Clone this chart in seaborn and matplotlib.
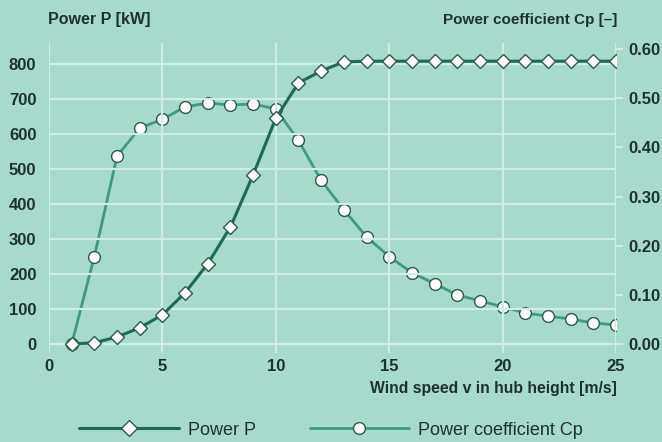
import matplotlib
matplotlib.use("Agg")
import matplotlib.pyplot as plt
from matplotlib.lines import Line2D
import seaborn as sns
import pandas as pd

# values
wind = list(range(1, 26))
power = [0, 3, 20, 46, 83, 146, 229, 334, 483, 645, 746, 780, 806,
         808, 808, 808, 808, 808, 808, 808, 808, 808, 808, 808, 808]
cp = [0.0, 0.178, 0.382, 0.439, 0.457, 0.482, 0.490, 0.486, 0.488, 0.478,
      0.414, 0.333, 0.273, 0.218, 0.178, 0.145, 0.123, 0.100, 0.088, 0.076,
      0.063, 0.057, 0.051, 0.043, 0.039]
p_ticks = [0, 100, 200, 300, 400, 500, 600, 700, 800]
cp_ticks = [0.0, 0.1, 0.2, 0.3, 0.4, 0.5, 0.6]
x_ticks = [0, 5, 10, 15, 20, 25]

df = pd.DataFrame({"v": wind, "P": power, "Cp": cp})

bg = "#a6dacb"
grid_c = "#cdeee5"
dark = "#1d6a55"
light = "#3f9a80"
txt = "#1c332d"

sns.set_style("white")
plt.rcParams["font.family"] = ["Liberation Sans", "DejaVu Sans"]

fig = plt.figure(figsize=(6.62, 4.42), dpi=100, facecolor=bg)
ax = fig.add_axes([0.074, 0.2014, 0.8565, 0.7013])
ax2 = ax.twinx()

sns.lineplot(data=df, x="v", y="Cp", ax=ax2, color=light, lw=2,
             marker="o", markersize=8.5, markerfacecolor="white",
             markeredgecolor="#2a5a4c", markeredgewidth=1)
sns.lineplot(data=df, x="v", y="P", ax=ax, color=dark, lw=2.2,
             marker="D", markersize=7.5, markerfacecolor="white",
             markeredgecolor="#2a5a4c", markeredgewidth=1)

ax.set_zorder(ax2.get_zorder() + 1)
ax.patch.set_visible(False)
ax2.patch.set_facecolor(bg)

ax.set_xlim(0, 25)
ax.set_ylim(-26, 860)
ax2.set_ylim(-0.018, 0.612)
ax.set_xticks(x_ticks)
ax.set_yticks(p_ticks)
ax2.set_yticks(cp_ticks)
ax2.set_yticklabels([f"{t:.2f}" for t in cp_ticks])

ax.grid(True, color=grid_c, lw=1.6)
ax2.grid(False)
for a in (ax, ax2):
    for s in a.spines.values():
        s.set_visible(False)

ax.tick_params(axis="y", length=0, labelsize=12, labelcolor=txt, pad=9)
ax.tick_params(axis="x", length=0, labelsize=12, labelcolor=txt, pad=4)
ax2.tick_params(axis="y", length=5, color=grid_c, width=1.5,
                labelsize=12, labelcolor=txt, pad=4)
for lab in ax.get_xticklabels() + ax.get_yticklabels() + ax2.get_yticklabels():
    lab.set_fontweight("bold")

ax.set_xlabel("")
ax.set_ylabel("")
ax2.set_ylabel("")

fig.text(0.073, 0.955, "Power P [kW]", fontsize=11.5, fontweight="bold",
         color=txt, ha="left", va="center")
fig.text(0.932, 0.955, "Power coefficient Cp [–]", fontsize=11,
         fontweight="bold", color=txt, ha="right", va="center")
fig.text(0.932, 0.122, "Wind speed v in hub height [m/s]", fontsize=11.3,
         fontweight="bold", color=txt, ha="right", va="center")

handles = [
    Line2D([], [], color=dark, lw=2.2, marker="D", markersize=8.5,
           markerfacecolor="white", markeredgecolor="#2a5a4c"),
    Line2D([], [], color=light, lw=2, marker="o", markersize=8.5,
           markerfacecolor="white", markeredgecolor="#2a5a4c"),
]
leg = fig.legend(handles, ["Power P", "Power coefficient Cp"], ncol=2,
                 loc="center", bbox_to_anchor=(0.5, 0.027), frameon=False,
                 handlelength=5.5, handletextpad=0.5, columnspacing=3,
                 fontsize=13, labelcolor=txt)

fig.savefig("out.png", dpi=100, facecolor=bg)
